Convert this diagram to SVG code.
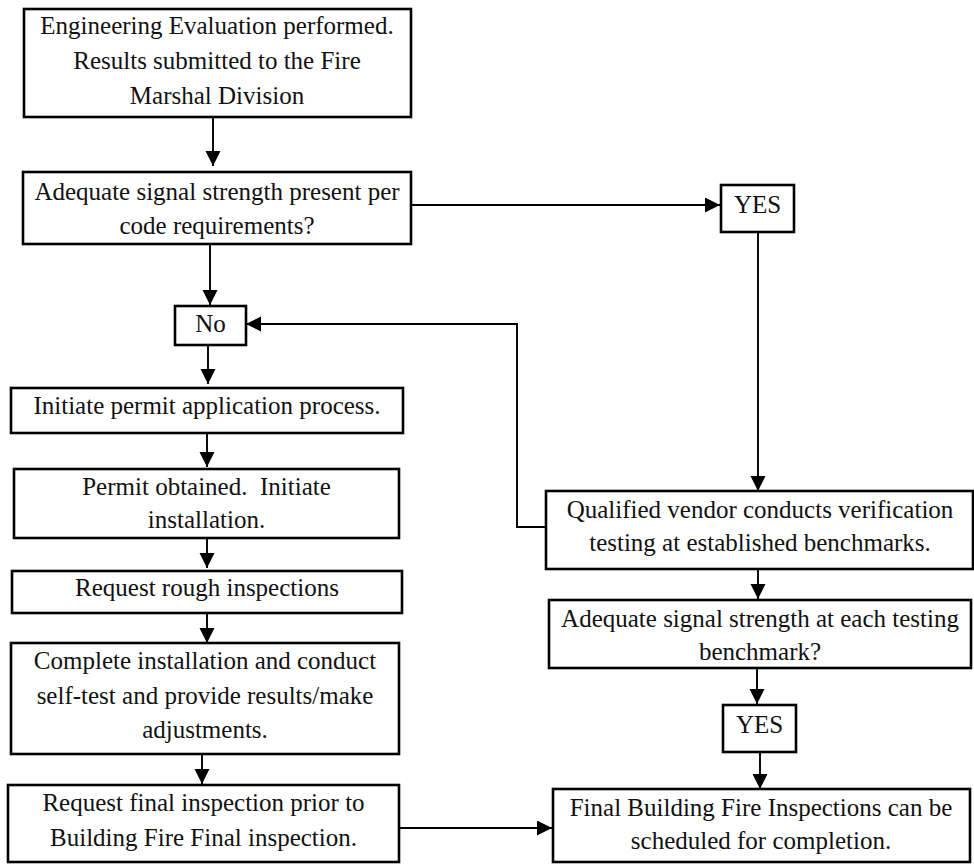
<svg xmlns="http://www.w3.org/2000/svg" width="974" height="865" viewBox="0 0 974 865">
<style>
.box{fill:#fff;stroke:#000;stroke-width:2.6}
.t{font-family:"Liberation Serif","Times New Roman",serif;font-size:25px;fill:#111;text-anchor:middle;white-space:pre}
.c{fill:none;stroke:#000;stroke-width:1.9}
</style>
<defs>
<marker id="ah" markerUnits="userSpaceOnUse" markerWidth="16" markerHeight="16" refX="15" refY="7.5" orient="auto">
<path d="M0,0 L15,7.5 L0,15 z" fill="#000"/>
</marker>
</defs>
<rect width="974" height="865" fill="#fff"/>
<g id="connectors">
<path class="c" d="M213,117 V166" marker-end="url(#ah)"/>
<path class="c" d="M411,205 H720" marker-end="url(#ah)"/>
<path class="c" d="M210,244 V305" marker-end="url(#ah)"/>
<path class="c" d="M208,345 V384" marker-end="url(#ah)"/>
<path class="c" d="M207,433 V467" marker-end="url(#ah)"/>
<path class="c" d="M207,538 V568" marker-end="url(#ah)"/>
<path class="c" d="M207,613 V643" marker-end="url(#ah)"/>
<path class="c" d="M202,754 V784" marker-end="url(#ah)"/>
<path class="c" d="M399,828 H552" marker-end="url(#ah)"/>
<path class="c" d="M758,232 V491" marker-end="url(#ah)"/>
<path class="c" d="M758,569 V599" marker-end="url(#ah)"/>
<path class="c" d="M757,668 V704" marker-end="url(#ah)"/>
<path class="c" d="M760,752 V789" marker-end="url(#ah)"/>
<path class="c" d="M546,527 H517 V324 H246" marker-end="url(#ah)"/>
</g>
<g id="n1"><rect class="box" x="24" y="9" width="387" height="108"/>
<text class="t" x="217" y="34">Engineering Evaluation performed.</text>
<text class="t" x="217" y="69">Results submitted to the Fire</text>
<text class="t" x="217" y="104">Marshal Division</text></g>
<g id="n2"><rect class="box" x="23" y="172" width="388" height="72"/>
<text class="t" x="217" y="200">Adequate signal strength present per</text>
<text class="t" x="217" y="234">code requirements?</text></g>
<g id="n3"><rect class="box" x="721" y="185" width="73" height="47"/>
<text class="t" x="757.5" y="213">YES</text></g>
<g id="n4"><rect class="box" x="175" y="306" width="71" height="39"/>
<text class="t" x="210.5" y="332">No</text></g>
<g id="n5"><rect class="box" x="11" y="388" width="392" height="45"/>
<text class="t" x="207" y="414">Initiate permit application process.</text></g>
<g id="n6"><rect class="box" x="14" y="469" width="385" height="69"/>
<text class="t" x="206.5" y="495" xml:space="preserve">Permit obtained.  Initiate</text>
<text class="t" x="206.5" y="528">installation.</text></g>
<g id="n7"><rect class="box" x="12" y="571" width="390" height="42"/>
<text class="t" x="207" y="596">Request rough inspections</text></g>
<g id="n8"><rect class="box" x="11" y="643" width="388" height="111"/>
<text class="t" x="205" y="669">Complete installation and conduct</text>
<text class="t" x="205" y="704">self-test and provide results/make</text>
<text class="t" x="205" y="738">adjustments.</text></g>
<g id="n9"><rect class="box" x="8" y="785" width="391" height="77"/>
<text class="t" x="203.5" y="811">Request final inspection prior to</text>
<text class="t" x="203.5" y="846">Building Fire Final inspection.</text></g>
<g id="n10"><rect class="box" x="546" y="491" width="427" height="78"/>
<text class="t" x="760" y="518">Qualified vendor conducts verification</text>
<text class="t" x="760" y="551">testing at established benchmarks.</text></g>
<g id="n11"><rect class="box" x="549" y="600" width="422" height="68"/>
<text class="t" x="760" y="627">Adequate signal strength at each testing</text>
<text class="t" x="760" y="660">benchmark?</text></g>
<g id="n12"><rect class="box" x="723" y="705" width="73" height="47"/>
<text class="t" x="759.5" y="733">YES</text></g>
<g id="n13"><rect class="box" x="553" y="789" width="417" height="73"/>
<text class="t" x="761" y="816">Final Building Fire Inspections can be</text>
<text class="t" x="761" y="849">scheduled for completion.</text></g>
</svg>
